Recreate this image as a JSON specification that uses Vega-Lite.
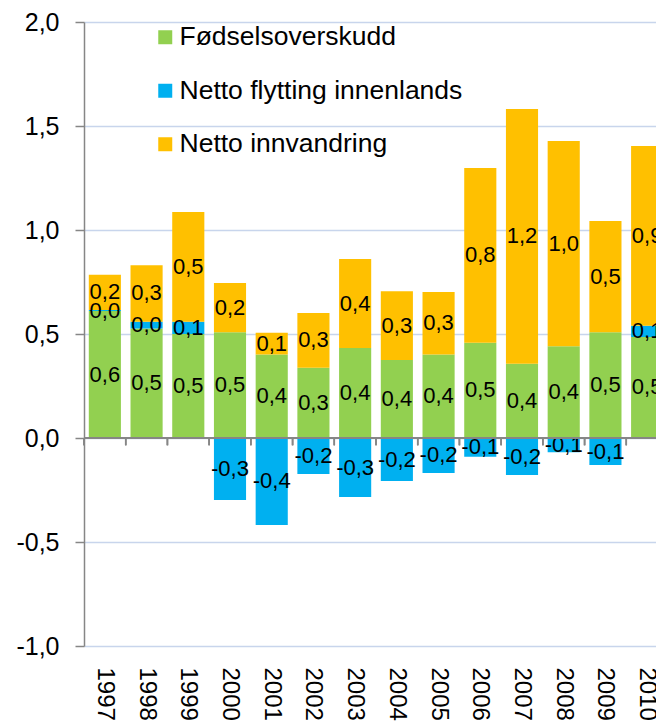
{
  "$schema": "https://vega.github.io/schema/vega-lite/v6.json",
  "width": 584,
  "height": 624,
  "padding": {"left": 15, "top": 10, "right": 0, "bottom": 0},
  "background": "white",
  "config": {
    "locale": {"number": {"decimal": ",", "thousands": " ", "grouping": [3], "currency": ["", " kr"], "minus": "-"}},
    "view": {"stroke": null},
    "font": "Liberation Sans"
  },
  "data": {
    "values": [
      {"year": "1997", "series": "Fødselsoverskudd", "value": 0.61},
      {"year": "1997", "series": "Netto flytting innenlands", "value": 0.005},
      {"year": "1997", "series": "Netto innvandring", "value": 0.17},
      {"year": "1998", "series": "Fødselsoverskudd", "value": 0.527},
      {"year": "1998", "series": "Netto flytting innenlands", "value": 0.032},
      {"year": "1998", "series": "Netto innvandring", "value": 0.272},
      {"year": "1999", "series": "Fødselsoverskudd", "value": 0.5},
      {"year": "1999", "series": "Netto flytting innenlands", "value": 0.059},
      {"year": "1999", "series": "Netto innvandring", "value": 0.528},
      {"year": "2000", "series": "Fødselsoverskudd", "value": 0.508},
      {"year": "2000", "series": "Netto flytting innenlands", "value": -0.298},
      {"year": "2000", "series": "Netto innvandring", "value": 0.237},
      {"year": "2001", "series": "Fødselsoverskudd", "value": 0.402},
      {"year": "2001", "series": "Netto flytting innenlands", "value": -0.418},
      {"year": "2001", "series": "Netto innvandring", "value": 0.104},
      {"year": "2002", "series": "Fødselsoverskudd", "value": 0.338},
      {"year": "2002", "series": "Netto flytting innenlands", "value": -0.173},
      {"year": "2002", "series": "Netto innvandring", "value": 0.263},
      {"year": "2003", "series": "Fødselsoverskudd", "value": 0.433},
      {"year": "2003", "series": "Netto flytting innenlands", "value": -0.284},
      {"year": "2003", "series": "Netto innvandring", "value": 0.427},
      {"year": "2004", "series": "Fødselsoverskudd", "value": 0.375},
      {"year": "2004", "series": "Netto flytting innenlands", "value": -0.207},
      {"year": "2004", "series": "Netto innvandring", "value": 0.33},
      {"year": "2005", "series": "Fødselsoverskudd", "value": 0.402},
      {"year": "2005", "series": "Netto flytting innenlands", "value": -0.168},
      {"year": "2005", "series": "Netto innvandring", "value": 0.3},
      {"year": "2006", "series": "Fødselsoverskudd", "value": 0.458},
      {"year": "2006", "series": "Netto flytting innenlands", "value": -0.09},
      {"year": "2006", "series": "Netto innvandring", "value": 0.84},
      {"year": "2007", "series": "Fødselsoverskudd", "value": 0.357},
      {"year": "2007", "series": "Netto flytting innenlands", "value": -0.178},
      {"year": "2007", "series": "Netto innvandring", "value": 1.225},
      {"year": "2008", "series": "Fødselsoverskudd", "value": 0.441},
      {"year": "2008", "series": "Netto flytting innenlands", "value": -0.069},
      {"year": "2008", "series": "Netto innvandring", "value": 0.987},
      {"year": "2009", "series": "Fødselsoverskudd", "value": 0.508},
      {"year": "2009", "series": "Netto flytting innenlands", "value": -0.13},
      {"year": "2009", "series": "Netto innvandring", "value": 0.535},
      {"year": "2010", "series": "Fødselsoverskudd", "value": 0.486},
      {"year": "2010", "series": "Netto flytting innenlands", "value": 0.054},
      {"year": "2010", "series": "Netto innvandring", "value": 0.864}
    ]
  },
  "transform": [
    {"stack": "value", "groupby": ["year"], "sort": [{"field": "series", "order": "ascending"}], "as": ["v0", "v1"]},
    {"calculate": "(datum.v0 + datum.v1) / 2", "as": "mid"}
  ],
  "layer": [
    {
      "mark": {"type": "bar", "width": {"band": 0.77}},
      "encoding": {
        "x": {
          "field": "year", "type": "ordinal",
          "scale": {"paddingInner": 0, "paddingOuter": 0},
          "axis": {
            "title": null, "domain": false, "ticks": false, "tickSize": 0,
            "labelAngle": 90, "labelAlign": "left", "labelBaseline": "middle",
            "labelPadding": 21, "labelFontSize": 24, "labelColor": "#000000"
          }
        },
        "y": {
          "field": "v0", "type": "quantitative",
          "scale": {"domain": [-1, 2], "nice": false},
          "axis": {
            "title": null, "values": [-1, -0.5, 0, 0.5, 1, 1.5, 2], "format": ".1f",
            "labelFontSize": 25, "labelColor": "#000000", "labelPadding": 16,
            "tickSize": 9, "tickColor": "#868686", "tickWidth": 1.5,
            "domainColor": "#868686", "domainWidth": 1.5,
            "grid": true, "gridColor": "#c8d5ec", "gridWidth": 1.5
          }
        },
        "y2": {"field": "v1"},
        "color": {
          "field": "series", "type": "nominal",
          "scale": {
            "domain": ["Fødselsoverskudd", "Netto flytting innenlands", "Netto innvandring"],
            "range": ["#92d050", "#00b0f0", "#ffc000"]
          },
          "legend": {
            "title": null, "orient": "none", "legendX": 68, "legendY": 2,
            "padding": 0, "symbolType": "square", "symbolSize": 196,
            "symbolStrokeWidth": 0, "labelFontSize": 26.5, "labelColor": "#000000",
            "labelOffset": 1, "rowPadding": 26.5, "labelLimit": 500
          }
        }
      }
    },
    {
      "mark": {"type": "text", "fontSize": 22, "color": "#000000"},
      "encoding": {
        "x": {"field": "year", "type": "ordinal"},
        "y": {"field": "mid", "type": "quantitative"},
        "text": {"field": "value", "type": "quantitative", "format": ".1f"}
      }
    },
    {
      "mark": {"type": "rule", "color": "#868686", "strokeWidth": 1.5},
      "encoding": {"y": {"datum": 0}}
    },
    {
      "mark": {"type": "rule", "color": "#868686", "strokeWidth": 1.5},
      "encoding": {
        "x": {"field": "year", "type": "ordinal", "bandPosition": 0},
        "y": {"datum": 0},
        "y2": {"datum": -0.035}
      }
    }
  ]
}
